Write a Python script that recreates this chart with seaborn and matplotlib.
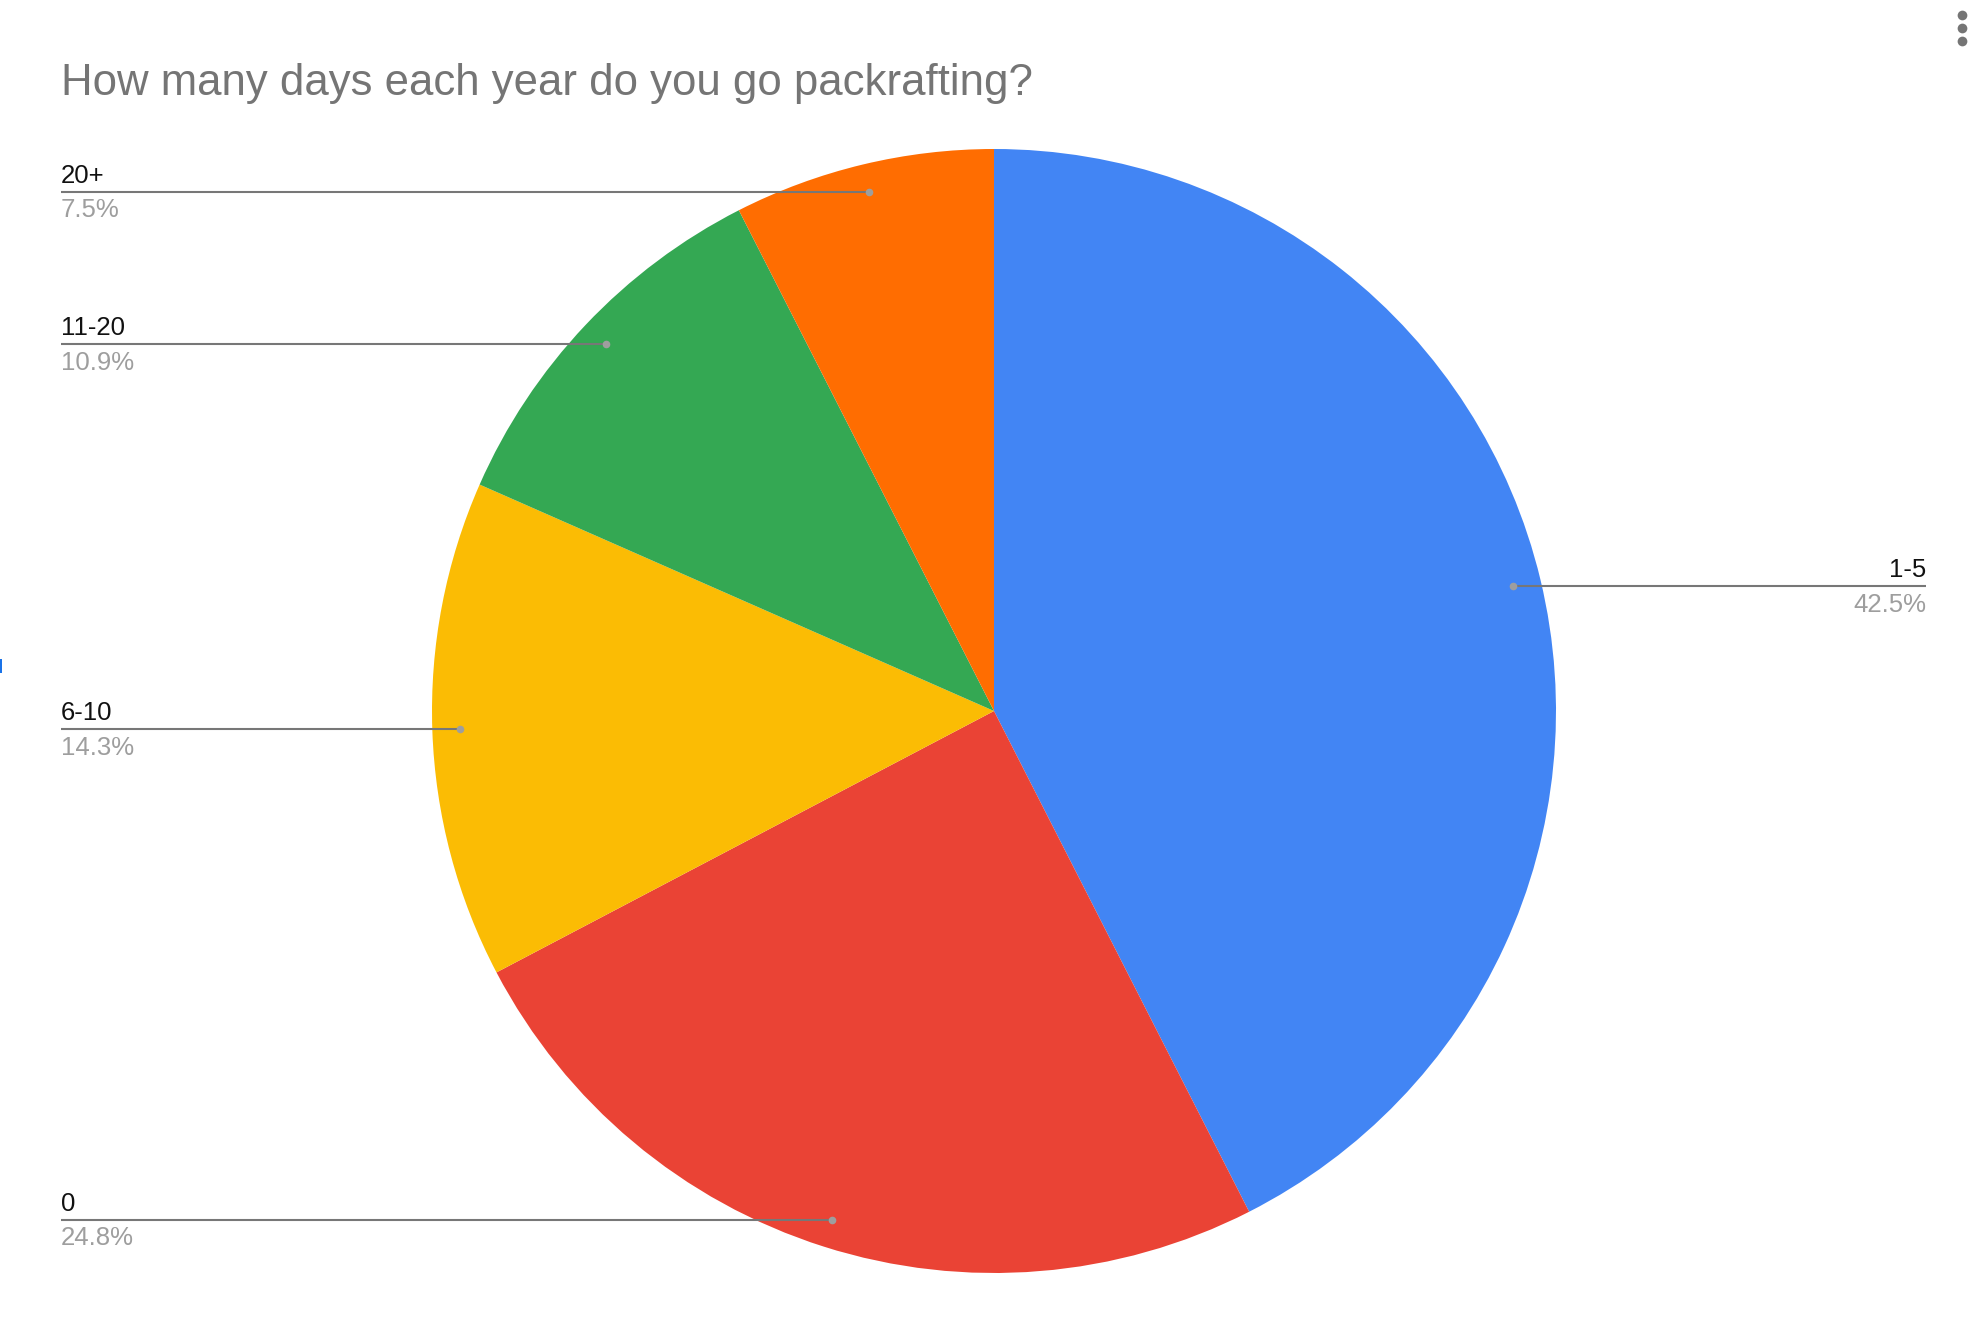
import numpy as np
import matplotlib.pyplot as plt
from matplotlib.patches import Rectangle
import seaborn as sns

# chart data
categories = ["1-5", "0", "6-10", "11-20", "20+"]
shares = [42.5, 24.8, 14.3, 10.9, 7.5]
slice_colors = ["#4285F4", "#EA4335", "#FBBC04", "#34A853", "#FF6D01"]
title = "How many days each year do you go packrafting?"

sns.set_theme(style="white")
plt.rcParams["font.family"] = ["Liberation Sans", "DejaVu Sans"]

W, H = 1985, 1333
fig = plt.figure(figsize=(W / 100, H / 100), dpi=100)
fig.patch.set_facecolor("white")
ax = fig.add_axes([0, 0, 1, 1])

# pie centre and radius in pixels
cx, cy, R = 994, 711, 562

palette = sns.color_palette(slice_colors)
wedges, _ = ax.pie(
    shares,
    colors=palette,
    startangle=90,
    counterclock=False,
    radius=1,
    wedgeprops=dict(linewidth=0),
)
ax.set_aspect("auto")
ax.set_xlim(-cx / R, (W - cx) / R)
ax.set_ylim(-(H - cy) / R, cy / R)
ax.axis("off")

# leader lines and labels
left_x = (61 - cx) / R
right_x = (1926 - cx) / R
cum = np.cumsum([0] + shares[:-1])
for name, share, start in zip(categories, shares, cum):
    ang = np.deg2rad(90 - 360 * (start + share / 2) / 100)
    px, py = 0.95 * np.cos(ang), 0.95 * np.sin(ang)
    if px >= 0:
        tx, ha = right_x, "right"
    else:
        tx, ha = left_x, "left"
    ax.plot([px, tx], [py, py], color="#777777", lw=1.5, solid_capstyle="butt", zorder=3)
    ax.plot(px, py, "o", color="#9e9e9e", ms=5.5, mec="none", zorder=4)
    ax.annotate(name, (tx, py), xytext=(0, 6.5), textcoords="offset points",
                ha=ha, va="baseline", fontsize=18.5, color="#111111")
    ax.annotate(f"{share}%", (tx, py), xytext=(0, -4.5), textcoords="offset points",
                ha=ha, va="top", fontsize=18.5, color="#9e9e9e")

fig.text(61 / W, 1 - 95 / H, title, fontsize=31.5, color="#757575", ha="left", va="baseline")

# menu dots in the corner
for yy in [15, 28, 41]:
    fig.add_artist(plt.Line2D([1962 / W], [1 - yy / H], marker="o", ms=7,
                              color="#757575", mec="none", transform=fig.transFigure))

fig.add_artist(Rectangle((0, 1 - 673 / H), 2 / W, 14 / H, transform=fig.transFigure,
                         color="#1a73e8", lw=0))

fig.savefig("out.png", dpi=100)
